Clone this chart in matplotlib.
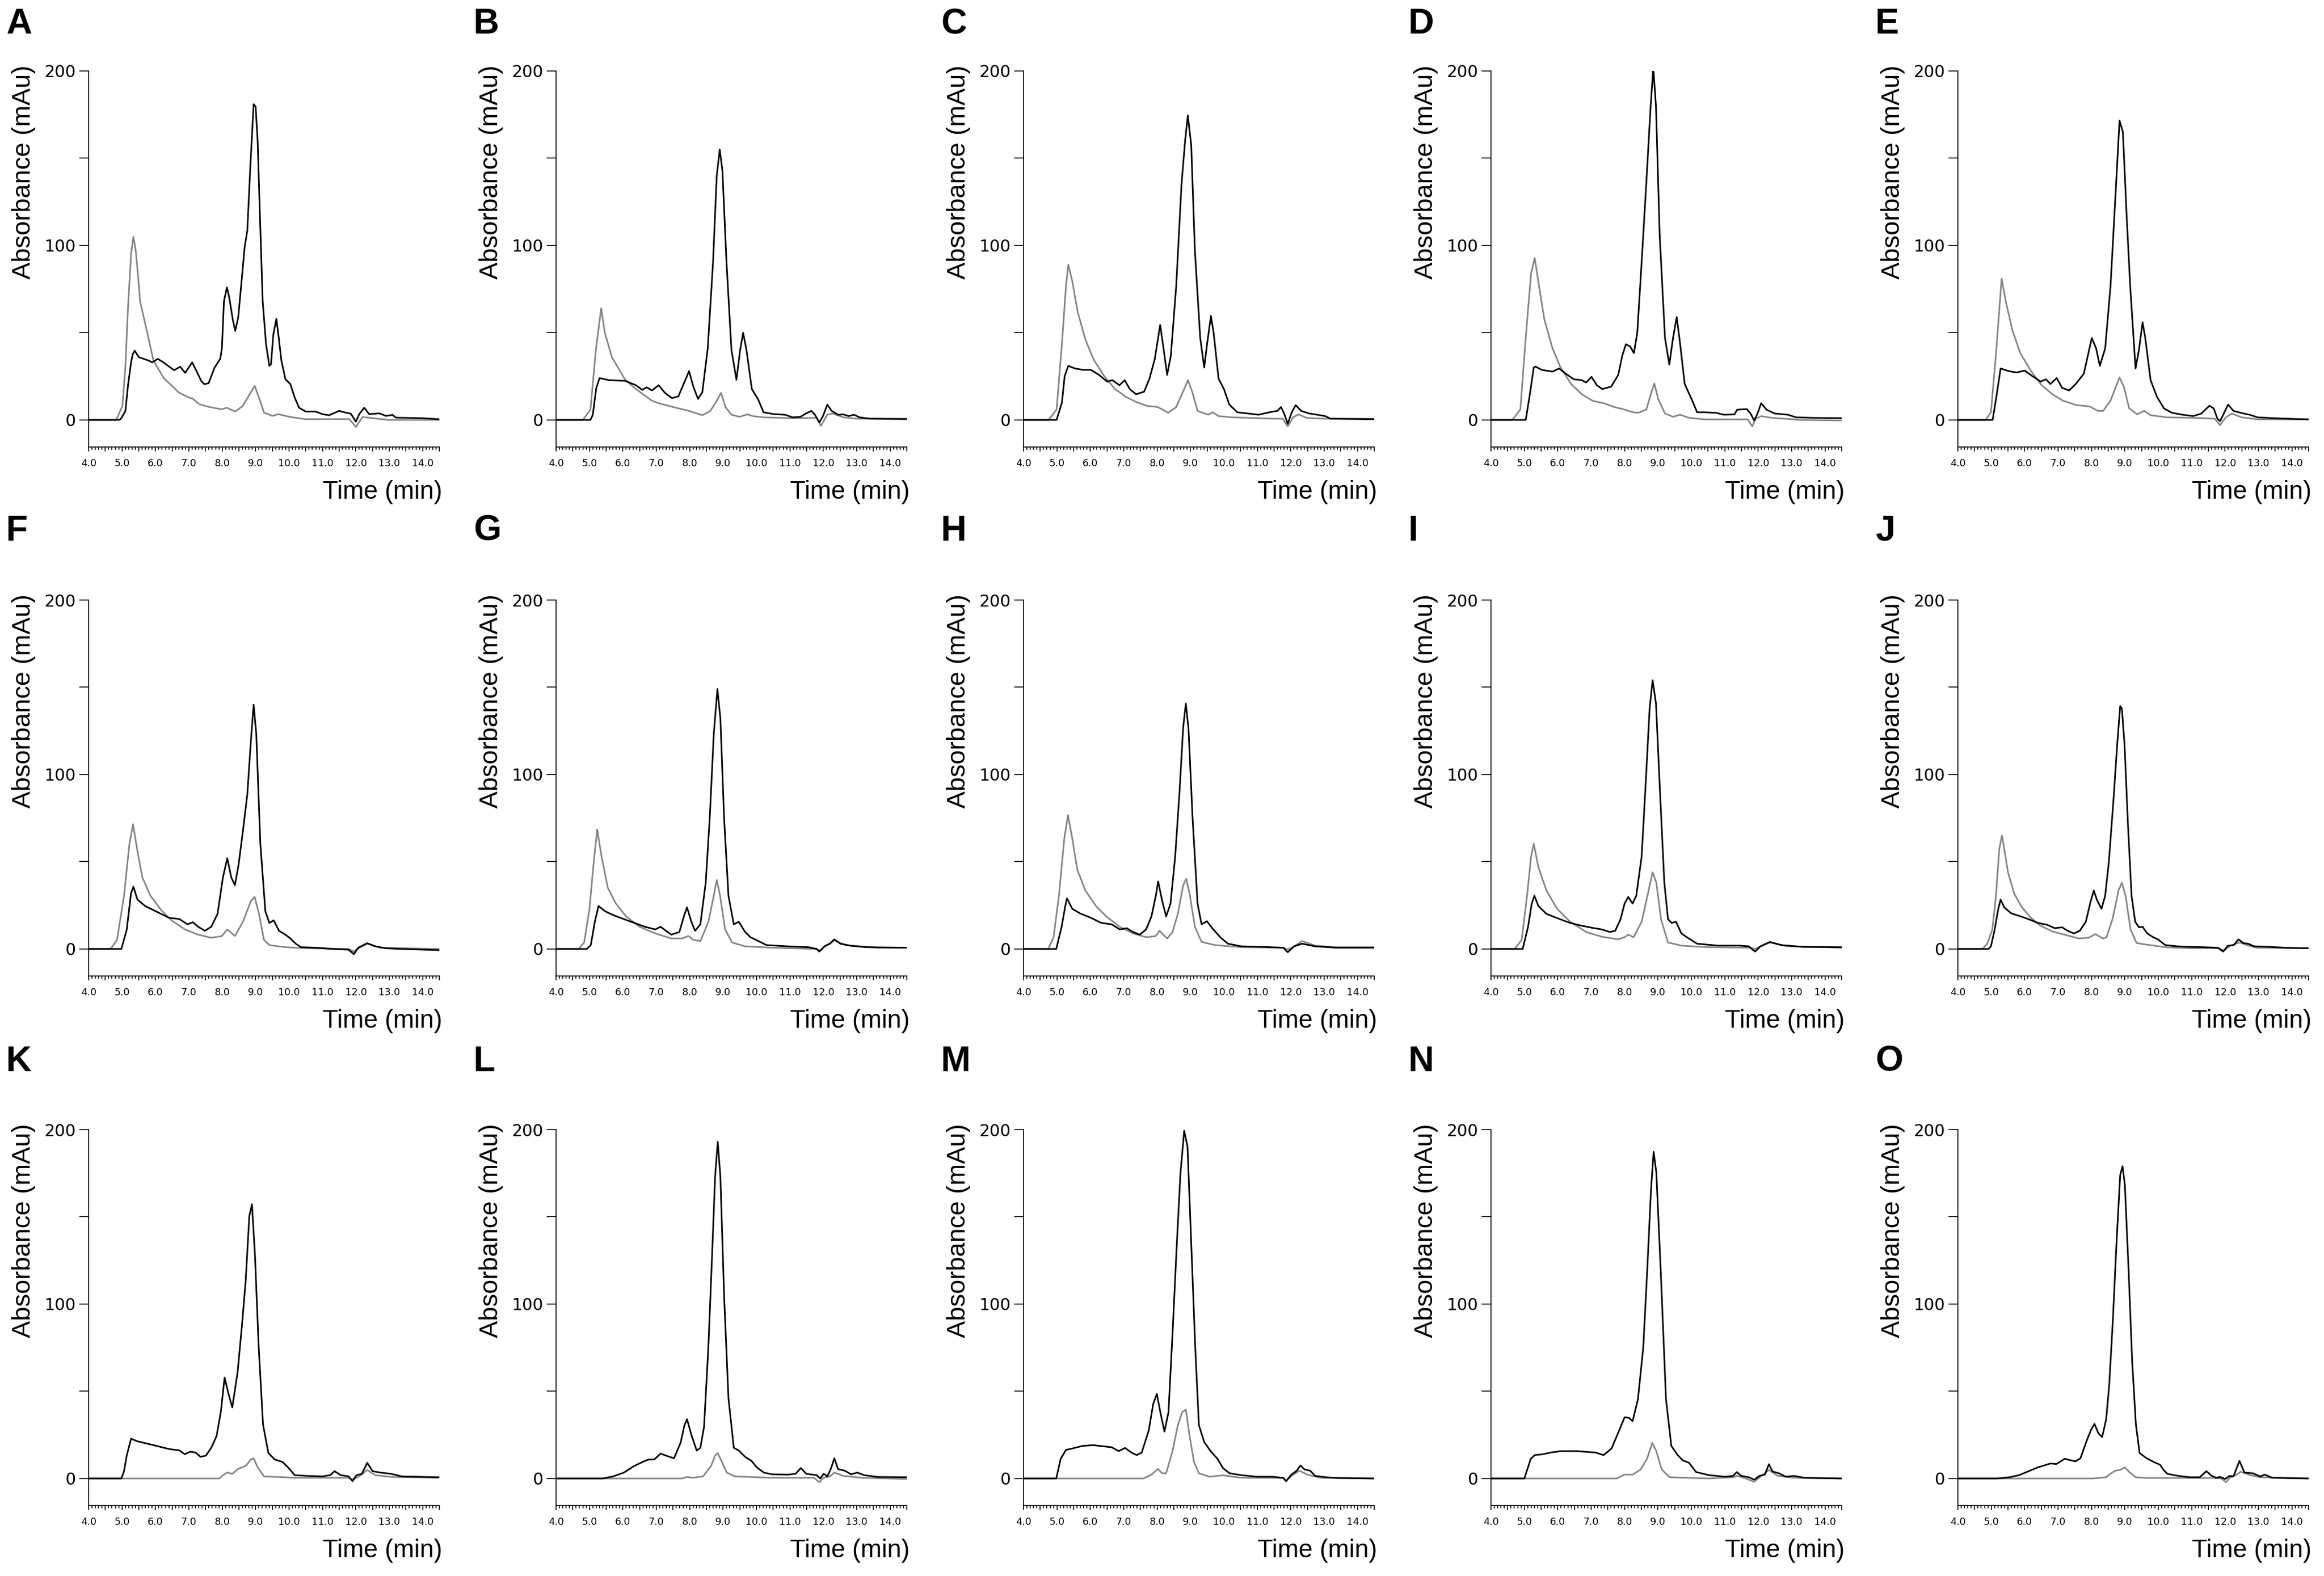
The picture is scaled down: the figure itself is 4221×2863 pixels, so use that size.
import numpy as np
import matplotlib.pyplot as plt

# Chromatogram traces: (time in min, absorbance in mAu)
A_black = [(4.0,0),(4.9,0),(4.96,0.5),(5.1,5),(5.18,20),(5.27,33),(5.32,37.7),(5.38,39.7),(5.5,36),(5.8,34),(5.9,33),
           (6.07,35),(6.24,33),(6.45,30),(6.56,28.5),(6.74,30.5),(6.89,27),(7.1,33),(7.23,28),(7.37,22.4),(7.46,20.5),
           (7.59,21),(7.77,30),(7.94,35),(7.99,41),(8.05,68),(8.14,76),(8.21,70),(8.32,57),(8.39,51),(8.48,59),(8.59,82),
           (8.67,99),(8.75,108.6),(8.84,145),(8.94,181),(9.0,179.5),(9.06,160),(9.13,116),(9.21,68),(9.31,43.5),(9.41,31),
           (9.46,32),(9.53,49),(9.62,58),(9.68,49),(9.77,34),(9.89,23.4),(10.04,20.5),(10.17,12.8),(10.3,7),(10.5,4.8),
           (10.8,4.8),(11.0,3.3),(11.2,2.7),(11.5,5.2),(11.7,4.2),(11.85,3.6),(12.0,-1),(12.1,3.3),(12.25,7),(12.4,3.3),
           (12.7,3.8),(12.9,2.3),(13.1,2.9),(13.2,1.3),(14.0,1),(14.5,0.4)]
A_gray = [(4.0,0),(4.8,0),(4.85,1),(5.01,8),(5.1,30),(5.18,65),(5.27,95),(5.34,105),(5.41,97),(5.5,78),(5.54,68),
          (5.72,53),(5.94,34),(6.25,24),(6.7,15.7),(7.05,12.4),(7.1,12.4),(7.32,9),(7.59,7.5),(7.99,6.1),(8.14,7),
          (8.39,4.8),(8.61,8),(8.79,13.8),(8.97,19.5),(9.1,12.8),(9.25,4.2),(9.5,2.3),(9.68,3.3),(10.04,1.7),(10.5,0.4),
          (11.0,0.5),(11.8,0.5),(12.0,-4),(12.2,1.7),(12.5,1),(13.0,0),(14.5,0)]

B_black = [(4.0,0),(5.03,0),(5.1,3),(5.2,18),(5.3,24),(5.59,22.8),(6.07,22.4),(6.39,19.9),(6.58,17.2),(6.71,18.7),
           (6.87,16.9),(7.07,19.9),(7.26,15.5),(7.47,12.5),(7.66,13.5),(7.85,22),(7.98,28),(8.11,19),(8.25,12),(8.38,16),
           (8.54,41),(8.7,91),(8.81,140),(8.9,155),(8.98,143),(9.1,91),(9.25,40),(9.4,23),(9.51,40),(9.6,50),(9.7,40),
           (9.86,17.7),(10.05,11.8),(10.21,4.4),(10.5,3.4),(10.85,3),(11.08,1.5),(11.32,1.8),(11.48,3.7),(11.64,5.2),
           (11.75,3),(11.88,-1.5),(11.99,2.2),(12.12,8.8),(12.25,5.2),(12.44,3),(12.6,3.2),(12.76,2.2),(12.92,3),
           (13.08,1.5),(13.4,0.7),(14.5,0.5)]
B_gray = [(4.0,0),(4.8,0),(5.03,6),(5.19,40),(5.35,64),(5.46,50),(5.67,36),(6.07,23),(6.39,17.7),(6.87,11),(7.07,9.6),
          (7.5,7.4),(7.98,5.2),(8.38,2.7),(8.62,5.2),(8.81,11),(8.94,15.5),(9.07,7.4),(9.25,3),(9.49,1.8),(9.73,3.2),
          (9.89,2.2),(10.21,1.5),(11.0,1),(11.8,1.2),(11.93,-3.4),(12.12,3),(12.28,3.7),(12.6,1.5),(13.0,0.7),(14.5,0.7)]

C_black = [(4.0,0),(4.99,0),(5.15,10),(5.23,25),(5.34,31),(5.54,29.5),(5.78,28.7),(6.02,28.7),(6.26,25.8),(6.5,22),
           (6.66,22.8),(6.87,19.9),(7.03,22.8),(7.18,17.7),(7.37,14.7),(7.61,16.2),(7.77,23.6),(7.93,35),(8.09,54.5),
           (8.2,39.8),(8.3,25.8),(8.41,36.8),(8.57,76.6),(8.73,135),(8.84,160.5),(8.92,174.5),(9.02,157.6),(9.13,97),
           (9.29,47),(9.41,30),(9.49,42.7),(9.61,59.6),(9.69,50),(9.84,23.6),(10.0,17.7),(10.16,8.8),(10.4,4.4),
           (10.72,3.7),(11.04,3),(11.36,4.4),(11.6,5.2),(11.71,7.4),(11.8,3.7),(11.91,-2.2),(12.03,4.4),(12.15,8.5),
           (12.31,5.2),(12.55,3.7),(12.79,3),(13.03,2.2),(13.19,0.7),(14.5,0.4)]
C_gray = [(4.0,0),(4.75,0),(4.99,6),(5.15,44),(5.27,76.6),(5.34,89),(5.46,79.5),(5.62,62),(5.86,45.6),(6.1,34.6),
          (6.42,25),(6.74,17.7),(7.06,13.3),(7.37,10.3),(7.69,8.1),(8.01,7.4),(8.17,5.9),(8.33,4.1),(8.57,7.4),
          (8.81,17.7),(8.92,22.8),(9.05,16.2),(9.21,5.2),(9.53,3),(9.66,4.4),(9.84,2.2),(10.24,1.5),(11.52,0.7),
          (11.76,0.7),(11.91,-3.7),(12.07,1.5),(12.23,3.2),(12.47,1.2),(13.0,0.7),(14.5,0.7)]

D_black = [(4.0,0),(5.04,0),(5.15,13),(5.28,30),(5.33,30.6),(5.52,28.7),(5.84,27.7),(6.04,29.5),(6.24,26.5),(6.48,23.3),
           (6.72,22.8),(6.85,21.4),(7.01,24.7),(7.17,19.9),(7.33,17.7),(7.6,19.1),(7.81,25.8),(7.93,36.8),(8.04,43.4),
           (8.17,42),(8.28,38.3),(8.38,50),(8.49,84),(8.65,135.5),(8.78,179.7),(8.86,201.8),(8.94,179.7),(9.05,106),
           (9.21,47),(9.34,31.7),(9.45,47),(9.56,59),(9.66,44),(9.8,20.6),(10.01,11.8),(10.17,4.4),(10.41,4.4),
           (10.73,4.1),(10.97,3),(11.29,3.2),(11.37,5.9),(11.66,6.2),(11.77,3.7),(11.88,-0.3),(11.98,3.7),(12.09,9.6),
           (12.25,5.9),(12.49,3.7),(12.89,3),(13.13,1.5),(13.61,1.2),(14.5,1)]
D_gray = [(4.0,0),(4.64,0),(4.88,6),(5.04,47),(5.2,84),(5.31,92.8),(5.44,76.6),(5.6,57.4),(5.84,41.2),(6.08,30.2),
          (6.4,20.6),(6.72,14.7),(7.04,11),(7.37,9.6),(7.69,7.4),(8.01,5.9),(8.25,4.4),(8.41,4.1),(8.65,5.9),(8.81,16.2),
          (8.89,20.9),(9.01,11.8),(9.21,3.7),(9.45,1.8),(9.66,3),(9.93,1.2),(10.41,0.3),(11.69,0.3),(11.82,-3.7),
          (11.93,0.7),(12.09,2.2),(12.41,1.2),(13.29,0),(14.5,-0.3)]

E_black = [(4.0,0),(5.04,0),(5.15,13),(5.28,29.5),(5.52,28),(5.76,27.2),(6.0,28.3),(6.24,25),(6.48,22),(6.64,23.3),
           (6.77,20.6),(6.96,24),(7.12,18.4),(7.33,16.9),(7.53,20.6),(7.77,26.5),(8.01,47),(8.14,41),(8.25,31),(8.41,41),
           (8.57,76.6),(8.73,132.5),(8.84,171.6),(8.94,165),(9.05,118),(9.16,76.6),(9.32,29.5),(9.42,40),(9.53,56),
           (9.61,47),(9.77,22.8),(9.96,13.3),(10.17,6.6),(10.41,4.1),(10.73,3),(11.05,2.2),(11.29,3.7),(11.53,8.1),
           (11.66,6.6),(11.77,0.7),(11.85,-0.7),(11.98,4.4),(12.09,8.8),(12.25,5.2),(12.49,4),(12.73,3),(12.97,1.5),
           (13.45,1),(14.5,0.3)]
E_gray = [(4.0,0),(4.83,0),(4.99,4.4),(5.15,40),(5.31,81),(5.44,67.5),(5.63,51.5),(5.87,38.3),(6.19,28),(6.51,19.9),
          (6.83,14.7),(7.15,11),(7.55,8.5),(7.95,7.7),(8.19,5.2),(8.35,5.2),(8.57,11),(8.73,19),(8.84,24.3),(8.97,19),
          (9.13,6.6),(9.37,3.2),(9.58,5.2),(9.77,2.7),(10.26,1.5),(11.37,1),(11.69,0.7),(11.85,-3),(12.01,1.2),
          (12.2,3.7),(12.49,1.5),(13.0,0.3),(14.5,0.3)]

F_black = [(4.0,0),(4.98,0),(5.14,11),(5.27,32),(5.34,35.7),(5.46,28.3),(5.69,24.6),(6.01,21.6),(6.4,17.9),(6.72,17.1),
           (6.96,14.1),(7.12,15.3),(7.28,12.7),(7.48,10.4),(7.67,12.7),(7.86,20.1),(8.02,41),(8.15,52),(8.27,41),
           (8.38,36.5),(8.49,48.4),(8.62,67.8),(8.75,88.6),(8.86,120),(8.94,140),(9.02,123),(9.14,60.3),(9.29,21.6),
           (9.41,14.9),(9.54,16.4),(9.7,10.4),(9.89,8.2),(10.04,6),(10.2,3),(10.36,1),(10.84,0.7),(11.31,0),
           (11.78,-0.4),(11.94,-3),(12.07,0.7),(12.34,3.3),(12.58,1.5),(12.89,0.4),(13.37,0),(14.5,-0.7)]
F_gray = [(4.0,0),(4.66,0),(4.85,5.2),(5.06,30.5),(5.22,60),(5.33,71.5),(5.46,56),(5.61,41),(5.85,30.5),(6.17,22.3),
          (6.48,16.4),(6.88,11.2),(7.28,8.2),(7.67,6.4),(7.99,7.4),(8.15,11.2),(8.38,7.4),(8.62,15.6),(8.86,27.6),
          (8.97,29.8),(9.1,20.1),(9.25,5.2),(9.41,2.2),(9.89,1),(10.52,0.4),(11.78,0),(11.94,-1.5),(12.1,0.7),
          (12.34,3),(12.73,0.7),(14.5,0)]

G_black = [(4.0,0),(4.92,0),(5.04,2.2),(5.16,15.6),(5.27,24.6),(5.47,21.6),(5.71,19.4),(6.03,17.1),(6.34,14.9),
           (6.66,12.7),(6.97,11.2),(7.13,12.7),(7.29,10.4),(7.45,8.2),(7.69,9.7),(7.85,20.1),(7.92,23.8),(8.05,15.6),
           (8.16,10.4),(8.32,14.1),(8.48,38),(8.6,75.2),(8.72,123),(8.83,149),(8.92,132),(9.03,75),(9.16,30.5),
           (9.32,14.1),(9.47,15.6),(9.66,9.7),(9.82,6.7),(10.06,4.5),(10.3,2.2),(10.93,1.5),(11.56,1),(11.8,0),
           (11.88,-1.5),(12.04,1.5),(12.2,3),(12.33,5.5),(12.51,3),(12.83,1.8),(13.3,1),(14.5,0.7)]
G_gray = [(4.0,0),(4.68,0),(4.84,3.7),(5.0,23),(5.12,48.4),(5.23,68.5),(5.36,53),(5.55,35),(5.79,26),(6.1,18.6),
          (6.5,12.7),(6.97,8.9),(7.45,6),(7.77,6),(7.96,7.4),(8.11,5.2),(8.32,4.5),(8.56,15.6),(8.72,30.5),(8.81,39.5),
          (8.91,30.5),(9.06,11.2),(9.27,3.7),(9.66,1.5),(10.46,0.7),(11.8,0),(11.91,-1),(12.04,1.5),(12.33,4.9),
          (12.67,2.2),(13.62,0.7),(14.5,0.7)]

H_black = [(4.0,0),(4.98,0),(5.14,12.7),(5.25,24.6),(5.3,29),(5.46,23),(5.69,20.4),(6.01,17.9),(6.33,14.9),(6.64,14.1),
           (6.88,11.2),(7.09,11.9),(7.28,9.7),(7.48,8.2),(7.67,11.2),(7.83,18.6),(7.96,30.5),(8.03,38.7),(8.15,27.6),
           (8.27,18.6),(8.4,26),(8.54,52.9),(8.67,90),(8.78,127),(8.86,140.7),(8.94,126),(9.06,75.2),(9.21,26),
           (9.33,14.1),(9.49,15.9),(9.65,11.9),(9.89,6.7),(10.12,3),(10.52,1.5),(11.15,1.2),(11.78,0.7),(11.91,-1.9),
           (12.1,1.5),(12.34,3),(12.73,1.5),(13.37,0.7),(14.5,0.7)]
H_gray = [(4.0,0),(4.74,0),(4.9,6.7),(5.06,30.5),(5.22,63.3),(5.33,76.7),(5.46,63.3),(5.61,45.4),(5.85,33.5),
          (6.17,24.6),(6.48,18.6),(6.88,12.7),(7.28,8.9),(7.67,6.7),(7.96,7.4),(8.07,10.4),(8.18,8.2),(8.3,6),
          (8.46,9.7),(8.62,20.1),(8.78,36.5),(8.87,40.2),(8.97,32),(9.13,12.7),(9.33,4),(9.73,2.2),(10.52,1),
          (11.78,0.7),(11.91,-0.4),(12.1,1.5),(12.34,4.5),(12.73,1.9),(13.37,1),(14.5,1)]

I_black = [(4.0,0),(4.95,0),(5.11,12.7),(5.22,26),(5.3,30.5),(5.42,24.6),(5.66,20.1),(6.06,17.1),(6.37,14.9),
           (6.69,13.4),(7.09,11.9),(7.32,11.2),(7.56,9.7),(7.72,10.4),(7.88,17.1),(8.0,26),(8.11,29.8),(8.24,26),
           (8.35,30.5),(8.51,52.9),(8.64,97.5),(8.75,137.8),(8.84,154),(8.94,140.7),(9.06,90),(9.19,38),(9.3,17.1),
           (9.41,14.9),(9.54,15.6),(9.7,8.9),(9.89,6.4),(10.17,3),(10.8,1.9),(11.44,1.9),(11.72,1.5),(11.83,-0.4),
           (11.91,-1.5),(12.07,1.5),(12.35,4),(12.7,2.2),(13.34,1.2),(14.5,1)]
I_gray = [(4.0,0),(4.71,0),(4.92,5.2),(5.08,30.5),(5.2,52.9),(5.28,60.3),(5.42,46.9),(5.66,33.5),(5.98,23),(6.37,15.6),
          (6.85,9.7),(7.32,7),(7.8,5.5),(8.0,6.7),(8.11,8.2),(8.27,6.7),(8.51,15.6),(8.72,33.5),(8.84,43.9),(8.95,38),
          (9.09,17.1),(9.3,3.7),(9.7,1.9),(10.49,1),(11.75,0.7),(11.91,0),(12.07,1.5),(12.35,3.7),(12.86,1.5),
          (14.5,0.7)]

J_black = [(4.0,0),(4.92,0),(4.99,1.5),(5.1,11),(5.21,23),(5.28,28.3),(5.39,23.8),(5.6,20.4),(5.89,18.6),(6.11,17.1),
           (6.4,14.9),(6.68,13.8),(6.9,11.9),(7.12,12.4),(7.29,10.4),(7.47,8.9),(7.65,10.4),(7.83,15.6),(7.98,27.6),
           (8.07,33.5),(8.16,28.3),(8.3,23),(8.41,30.5),(8.52,49.9),(8.66,85.6),(8.77,117),(8.86,139.2),(8.91,137.8),
           (8.99,117),(9.09,72.2),(9.2,30.5),(9.31,15.6),(9.42,12.4),(9.53,12.7),(9.67,8.9),(9.85,6.7),(9.99,5.5),
           (10.21,2.2),(10.57,1.5),(10.93,1.2),(11.36,1),(11.79,0.7),(11.94,-1.5),(12.08,1.8),(12.26,2.2),(12.4,5.5),
           (12.55,3.3),(12.69,3),(12.87,1.5),(13.23,1.3),(13.81,0.7),(14.5,0.4)]
J_gray = [(4.0,0),(4.74,0),(4.88,3),(5.03,11),(5.14,30.5),(5.24,57.3),(5.32,65),(5.39,57.3),(5.5,44),(5.68,32),
          (5.89,24.6),(6.18,17.9),(6.47,13.4),(6.83,10),(7.19,8.2),(7.62,6),(7.91,6.4),(8.12,8.5),(8.34,6),(8.45,6.7),
          (8.63,17.1),(8.81,33.5),(8.91,38),(9.02,30.5),(9.17,11.2),(9.35,3.4),(9.63,2.5),(10.21,1),(10.93,0.4),
          (11.79,0.4),(11.97,-1),(12.15,1.8),(12.44,3.7),(12.65,2.2),(12.94,0.7),(14.5,0.4)]

K_black = [(4.0,0),(4.98,0),(5.06,4.2),(5.14,13.1),(5.27,22.8),(5.46,21.3),(5.77,19.9),(6.09,18.4),(6.41,16.9),
           (6.72,16.1),(6.88,13.9),(7.04,15.4),(7.2,14.9),(7.35,12.4),(7.51,13.1),(7.67,17.6),(7.83,24.3),(7.96,38.5),
           (8.07,57.9),(8.18,49),(8.3,40.7),(8.46,60.9),(8.59,87.8),(8.7,113),(8.81,150.4),(8.89,157.2),(8.98,128),
           (9.09,75.8),(9.22,31),(9.38,14.6),(9.57,10.9),(9.81,9.4),(9.97,6.4),(10.17,1.9),(10.52,1.5),(11.0,1.2),
           (11.23,1.9),(11.36,4.2),(11.55,1.9),(11.78,1.2),(11.9,-1.5),(12.02,1.9),(12.18,2.7),(12.34,9),(12.5,4.2),
           (12.73,3.4),(13.05,2.7),(13.37,1.2),(14.5,0.7)]
K_gray = [(4.0,0),(7.91,0),(8.02,1.9),(8.15,3.4),(8.3,2.7),(8.49,5.7),(8.7,7.2),(8.86,10.9),(8.94,11.6),(9.06,6.4),
          (9.25,1.2),(10.2,0.4),(11.78,0.4),(11.91,-0.6),(12.1,1.2),(12.34,4.9),(12.58,1.9),(13.05,0.9),(14.5,0.4)]

L_black = [(4.0,0),(5.39,0),(5.71,1.2),(6.03,3.4),(6.34,7.2),(6.66,10.1),(6.78,10.9),(6.94,10.9),(7.13,14.3),
           (7.29,13.1),(7.53,11.6),(7.73,20.6),(7.84,30.3),(7.92,34),(8.05,25),(8.21,16),(8.32,17.6),(8.43,29.6),
           (8.56,75.8),(8.67,128),(8.76,172.8),(8.84,193),(8.92,172.8),(9.03,105),(9.16,46),(9.32,17.6),(9.47,16),
           (9.66,12.4),(9.85,10.1),(10.01,6.4),(10.22,3.4),(10.46,2.4),(10.93,2.2),(11.17,2.7),(11.33,6),(11.49,2.7),
           (11.8,1.9),(11.91,0),(12.01,2.7),(12.12,1.2),(12.23,5.7),(12.33,11.6),(12.44,5.4),(12.64,4.5),(12.83,2.4),
           (13.02,3.4),(13.22,1.9),(13.62,0.9),(14.5,0.7)]
L_gray = [(4.0,0),(7.77,0),(7.92,0.9),(8.08,0.4),(8.4,1.2),(8.64,7.2),(8.76,13.1),(8.84,14.6),(8.95,10.1),(9.11,3.4),
          (9.35,1.2),(10.46,0.4),(11.72,0.4),(11.88,-2.1),(12.01,0.4),(12.2,1.2),(12.33,3.4),(12.6,1.5),(13.15,0.4),
          (14.5,-0.3)]

M_black = [(4.0,0),(4.98,0),(5.11,11.2),(5.27,16.4),(5.46,17.2),(5.77,18.7),(6.09,19.1),(6.41,18.4),(6.64,17.9),
           (6.85,15.7),(7.04,17.5),(7.23,14.9),(7.39,13.4),(7.54,14.9),(7.75,27.6),(7.88,42.5),(7.99,48.5),(8.11,36.6),
           (8.22,26.9),(8.34,38),(8.46,82.8),(8.59,135),(8.7,175.4),(8.81,199.3),(8.91,190.3),(9.02,135),(9.14,75.4),
           (9.25,30.6),(9.41,20.9),(9.6,15.7),(9.81,11.2),(9.97,6),(10.17,3),(10.52,1.9),(10.99,1),(11.47,1),
           (11.78,0.3),(11.86,-1.5),(12.02,2.2),(12.18,4.5),(12.29,7.5),(12.41,5.2),(12.58,4.5),(12.73,1.5),
           (13.05,0.7),(13.37,0.3),(14.5,0)]
M_gray = [(4.0,0),(7.59,0),(7.83,2.2),(8.02,5.5),(8.15,3),(8.27,3),(8.46,15.7),(8.62,30.6),(8.75,38),(8.86,39.5),
          (8.97,24.6),(9.1,9.7),(9.25,3),(9.57,1),(9.97,1.8),(10.52,0.4),(11.78,0.3),(11.86,-1.5),(12.02,1.5),
          (12.26,4.5),(12.5,2.2),(12.89,0.4),(14.5,0)]

N_black = [(4.0,0),(5.0,0),(5.19,11.2),(5.31,13.4),(5.55,13.9),(5.79,14.9),(6.1,15.7),(6.58,15.7),(6.9,15.2),
           (7.13,14.9),(7.37,13.4),(7.61,17.2),(7.84,27.6),(8.0,35.1),(8.13,34.8),(8.24,32.8),(8.4,45.5),(8.56,75.4),
           (8.68,120),(8.79,165),(8.87,187.3),(8.95,175.4),(9.08,120),(9.24,45.5),(9.4,18.7),(9.59,13.4),(9.74,10.4),
           (9.93,9),(10.14,3.7),(10.53,1.9),(11.01,1),(11.25,1.5),(11.36,3.7),(11.49,1.5),(11.72,0.7),(11.88,-0.7),
           (12.04,1.5),(12.2,2.2),(12.32,8.2),(12.43,4),(12.62,3),(12.83,1),(13.07,1.5),(13.38,0.4),(14.5,0)]
N_gray = [(4.0,0),(7.77,0),(8.0,2.2),(8.24,2.2),(8.48,5.2),(8.67,11.2),(8.83,20.4),(8.95,15.7),(9.11,5.2),(9.35,0.7),
          (10.53,0),(11.25,0.7),(11.36,1.5),(11.57,0.4),(11.88,-1.9),(12.04,0.7),(12.32,4.9),(12.59,1.5),(13.07,0.4),
          (14.5,0)]

O_black = [(4.0,0),(5.18,0),(5.54,0.7),(5.83,1.9),(6.12,4.2),(6.4,6.4),(6.77,8.6),(6.95,8.3),(7.2,11.3),(7.34,10.6),
           (7.52,9.8),(7.67,11.6),(7.85,21.3),(7.99,28),(8.09,31.3),(8.21,25.8),(8.32,23.8),(8.44,34),(8.53,53.3),
           (8.64,90.5),(8.75,135),(8.86,174),(8.93,179),(9.0,168),(9.11,120),(9.22,66.7),(9.33,31),(9.44,14.6),
           (9.65,11.6),(9.87,9.4),(10.05,7.9),(10.16,4.9),(10.27,2.7),(10.59,1.5),(10.95,0.7),(11.24,0.7),(11.44,4.2),
           (11.6,1.5),(11.74,0.4),(11.85,0.9),(12.0,-0.3),(12.14,1.5),(12.25,1.2),(12.43,10.1),(12.58,3.4),(12.83,3),
           (13.05,1.2),(13.19,2.2),(13.41,0.4),(14.5,0)]
O_gray = [(4.0,0),(8.06,0),(8.43,0.7),(8.57,2.7),(8.71,4.5),(8.86,4.9),(9.0,6.4),(9.15,3.4),(9.33,0.7),(9.65,0.3),
          (11.67,0.3),(11.88,0),(12.03,-2.1),(12.14,0.4),(12.32,1.9),(12.47,3.9),(12.76,1.9),(13.05,0.7),(14.5,0)]

letters = list("ABCDEFGHIJKLMNO")
black_traces = [A_black, B_black, C_black, D_black, E_black, F_black, G_black, H_black,
                I_black, J_black, K_black, L_black, M_black, N_black, O_black]
gray_traces = [A_gray, B_gray, C_gray, D_gray, E_gray, F_gray, G_gray, H_gray,
               I_gray, J_gray, K_gray, L_gray, M_gray, N_gray, O_gray]

x_major = np.arange(4.0, 14.51, 0.5)
x_labels = [f"{v:.1f}" if v == int(v) else "" for v in x_major]

# layout in pixels of the 4221 x 2863 canvas
W, H = 4221, 2863
col_left = [161, 1010, 1859, 2708, 3556]
row_top = [129, 1090, 2052]
letter_base = [61, 982, 1946]
ax_w, ax_h = 637, 683

fig = plt.figure(figsize=(W / 300, H / 300), dpi=300)

for i, letter in enumerate(letters):
    r, c = divmod(i, 5)
    left, top = col_left[c], row_top[r]
    ax = fig.add_axes([left / W, 1 - (top + ax_h) / H, ax_w / W, ax_h / H])

    t, y = zip(*gray_traces[i])
    ax.plot(t, y, color='#858585', lw=0.7)
    t, y = zip(*black_traces[i])
    ax.plot(t, y, color='black', lw=0.7)

    ax.set_xlim(4.0, 14.5)
    ax.set_ylim(-15.5, 200)
    for s in ['top', 'right']:
        ax.spines[s].set_visible(False)
    for s in ['left', 'bottom']:
        ax.spines[s].set_linewidth(0.4)

    ax.set_xticks(x_major, x_labels)
    ax.set_xticks(np.arange(4.0, 14.51, 0.1), minor=True)
    ax.tick_params(axis='x', which='major', length=2, width=0.4, pad=3, labelsize=4.3)
    ax.tick_params(axis='x', which='minor', length=1.2, width=0.4)
    ax.set_yticks([0, 50, 100, 150, 200], ['0', '', '100', '', '200'])
    ax.tick_params(axis='y', length=4, width=0.4, pad=1.5, labelsize=7.2)

    ax.text(-0.185, 1.016, 'Absorbance (mAu)', rotation=90, ha='center', va='top',
            transform=ax.transAxes, fontsize=11.2, family='Liberation Sans')
    ax.text(1.008, -0.12, 'Time (min)', ha='right', va='center',
            transform=ax.transAxes, fontsize=11, family='Liberation Sans')

    fig.text((left - 150) / W, 1 - letter_base[r] / H, letter, fontsize=15.5,
             fontweight='bold', family='Liberation Sans', ha='left', va='baseline')

fig.savefig('out.png', dpi=300)
